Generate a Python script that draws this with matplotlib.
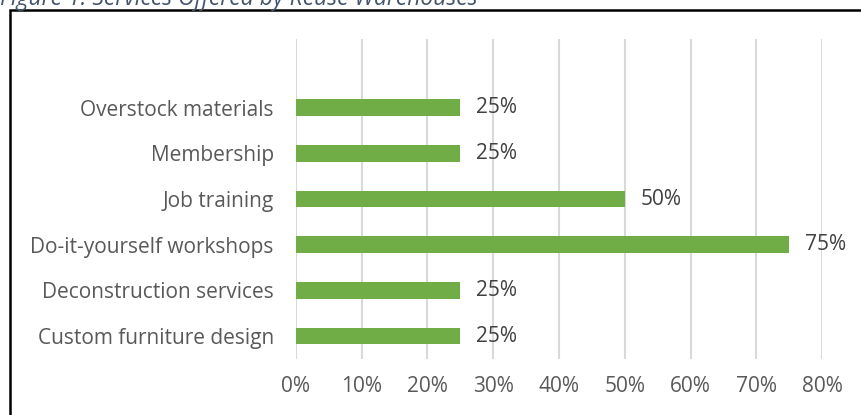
import numpy as np
import matplotlib.pyplot as plt
from matplotlib.patches import Rectangle
from matplotlib.ticker import PercentFormatter

services = ["Custom furniture design", "Deconstruction services",
            "Do-it-yourself workshops", "Job training",
            "Membership", "Overstock materials"]
shares = [0.25, 0.25, 0.75, 0.50, 0.25, 0.25]
x_ticks = [0.0, 0.1, 0.2, 0.3, 0.4, 0.5, 0.6, 0.7, 0.8]

plt.rcParams['font.family'] = ['Open Sans', 'DejaVu Sans']

fig = plt.figure(figsize=(8.62, 4.15), dpi=100)

# frame around the chart and the caption above it
fig.patches.append(Rectangle((10 / 862, -0.1), 1.0, (415 - 10) / 415 + 0.1,
                             transform=fig.transFigure, fill=False,
                             edgecolor='black', linewidth=1.8))
fig.text(0.0, (415 - 5) / 415, "Figure 1: Services Offered by Reuse Warehouses",
         fontsize=16.5, style='italic', color='#44546A', va='baseline', ha='left')

ax = fig.add_axes([296 / 862, (415 - 359) / 415, (822 - 296) / 862, 320 / 415])

y = np.arange(len(services))
ax.barh(y, shares, height=0.36, color='#70AD47', zorder=3)
for yi, v in zip(y, shares):
    ax.text(v + 0.024, yi, f"{v:.0%}", va='center', ha='left',
            fontsize=15, color='#404040')

ax.set_xlim(0, 0.8)
ax.set_ylim(-0.5, 6.5)
ax.set_xticks(x_ticks)
ax.xaxis.set_major_formatter(PercentFormatter(1.0, decimals=0))
ax.set_yticks(y)
ax.set_yticklabels(services)
ax.tick_params(axis='both', length=0, labelsize=15, colors='#595959')
ax.tick_params(axis='y', pad=16)
ax.tick_params(axis='x', pad=12)
ax.grid(axis='x', color='#D9D9D9', linewidth=1.5, zorder=0)
for s in ax.spines.values():
    s.set_visible(False)

fig.savefig('out.png', dpi=100)
